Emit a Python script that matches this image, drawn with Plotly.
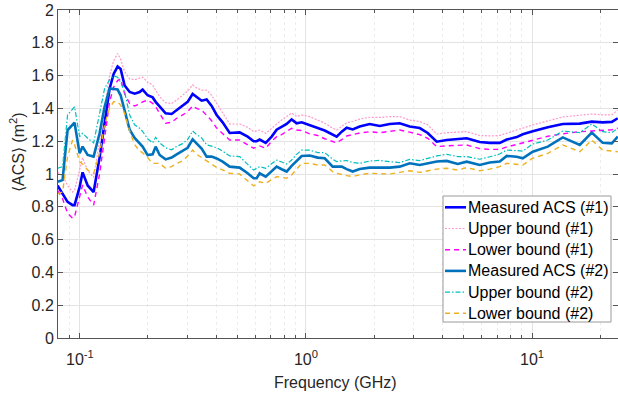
import plotly.graph_objects as go

# Frequency grid (GHz)
freq = [0.0796, 0.0838, 0.0882, 0.0928, 0.0947, 0.0997, 0.1028, 0.1082, 0.1150, 0.1222,
        0.1286, 0.1353, 0.1410, 0.1468, 0.1514, 0.1577, 0.1660, 0.1746, 0.1837, 0.1894,
        0.1993, 0.2098, 0.2163, 0.2253, 0.2394, 0.2545, 0.2679, 0.2847, 0.2996, 0.3152,
        0.3283, 0.3455, 0.3636, 0.3826, 0.4026, 0.4279, 0.4597, 0.5089, 0.5521, 0.5869,
        0.6052, 0.6239, 0.6635, 0.7050, 0.7418, 0.7806, 0.8214, 0.8642, 0.9095, 0.9572,
        1.038, 1.127, 1.210, 1.313, 1.367, 1.439, 1.514, 1.609, 1.728, 1.913,
        2.119, 2.346, 2.597, 2.876, 3.185, 3.455, 3.787, 4.194, 4.691, 5.141,
        5.869, 6.500, 7.195, 7.730, 8.557, 9.097, 10.07, 11.74, 13.67, 16.26,
        18.37, 20.55, 22.53, 23.94]

meas1 = [0.93, 0.88, 0.83, 0.81, 0.81, 0.92, 1.01, 0.93, 0.89, 1.10,
         1.30, 1.52, 1.61, 1.655, 1.64, 1.54, 1.50, 1.49, 1.50, 1.515,
         1.48, 1.467, 1.44, 1.41, 1.37, 1.366, 1.39, 1.42, 1.44, 1.488,
         1.47, 1.447, 1.455, 1.415, 1.36, 1.315, 1.25, 1.254, 1.228, 1.20,
         1.20, 1.21, 1.19, 1.228, 1.27, 1.285, 1.305, 1.333, 1.309, 1.315,
         1.30, 1.28, 1.265, 1.24, 1.228, 1.258, 1.282, 1.272, 1.29, 1.305,
         1.293, 1.305, 1.309, 1.289, 1.28, 1.25, 1.197, 1.207, 1.213, 1.218,
         1.195, 1.19, 1.19, 1.21, 1.225, 1.242, 1.26, 1.285, 1.305, 1.307,
         1.319, 1.315, 1.318, 1.34]

upper1 = [1.01, 0.99, 0.93, 0.89, 0.90, 1.02, 1.10, 1.02, 0.98, 1.20,
          1.40, 1.60, 1.69, 1.735, 1.70, 1.624, 1.58, 1.575, 1.585, 1.59,
          1.56, 1.543, 1.51, 1.471, 1.435, 1.43, 1.451, 1.48, 1.505, 1.543,
          1.525, 1.512, 1.512, 1.48, 1.43, 1.37, 1.305, 1.305, 1.285, 1.258,
          1.262, 1.268, 1.248, 1.28, 1.309, 1.33, 1.35, 1.372, 1.35, 1.36,
          1.35, 1.33, 1.31, 1.28, 1.268, 1.29, 1.313, 1.32, 1.335, 1.346,
          1.345, 1.35, 1.35, 1.329, 1.32, 1.30, 1.244, 1.252, 1.255, 1.258,
          1.235, 1.232, 1.235, 1.25, 1.268, 1.28, 1.299, 1.325, 1.348, 1.358,
          1.366, 1.36, 1.36, 1.39]

lower1 = [0.90, 0.85, 0.76, 0.73, 0.74, 0.87, 0.933, 0.86, 0.81, 1.00,
          1.22, 1.44, 1.53, 1.57, 1.58, 1.49, 1.43, 1.415, 1.427, 1.44,
          1.45, 1.431, 1.41, 1.37, 1.31, 1.315, 1.34, 1.36, 1.38, 1.415,
          1.40, 1.39, 1.36, 1.325, 1.28, 1.245, 1.207, 1.207, 1.18, 1.157,
          1.165, 1.171, 1.157, 1.20, 1.228, 1.24, 1.26, 1.279, 1.268, 1.265,
          1.245, 1.235, 1.215, 1.195, 1.19, 1.21, 1.232, 1.24, 1.25, 1.258,
          1.252, 1.26, 1.268, 1.255, 1.24, 1.218, 1.167, 1.172, 1.175, 1.177,
          1.155, 1.15, 1.15, 1.165, 1.18, 1.19, 1.205, 1.23, 1.245, 1.258,
          1.262, 1.268, 1.27, 1.279]

meas2 = [0.953, 0.963, 1.268, 1.30, 1.313, 1.126, 1.167, 1.116, 1.106, 1.248,
         1.41, 1.522, 1.52, 1.515, 1.48, 1.38, 1.27, 1.22, 1.19, 1.167,
         1.115, 1.12, 1.167, 1.116, 1.089, 1.10, 1.12, 1.14, 1.16, 1.211,
         1.187, 1.155, 1.106, 1.106, 1.095, 1.075, 1.045, 1.039, 1.005, 0.974,
         0.974, 1.004, 0.984, 1.015, 1.045, 1.029, 1.015, 1.05, 1.08, 1.11,
         1.113, 1.10, 1.096, 1.045, 1.045, 1.045, 1.03, 1.015, 1.03, 1.039,
         1.039, 1.039, 1.045, 1.065, 1.055, 1.065, 1.076, 1.08, 1.061, 1.075,
         1.055, 1.07, 1.076, 1.11, 1.105, 1.096, 1.136, 1.167, 1.223, 1.177,
         1.252, 1.19, 1.187, 1.228]

upper2 = [1.035, 1.045, 1.36, 1.40, 1.41, 1.228, 1.248, 1.218, 1.19, 1.37,
          1.522, 1.575, 1.598, 1.59, 1.56, 1.50, 1.36, 1.30, 1.279, 1.26,
          1.215, 1.19, 1.224, 1.19, 1.16, 1.148, 1.168, 1.185, 1.21, 1.262,
          1.24, 1.22, 1.177, 1.17, 1.16, 1.14, 1.11, 1.106, 1.06, 1.024,
          1.035, 1.045, 1.035, 1.06, 1.085, 1.073, 1.061, 1.085, 1.12, 1.146,
          1.146, 1.13, 1.13, 1.09, 1.076, 1.08, 1.082, 1.07, 1.065, 1.079,
          1.083, 1.075, 1.07, 1.089, 1.082, 1.095, 1.11, 1.12, 1.106, 1.106,
          1.09, 1.105, 1.122, 1.146, 1.14, 1.14, 1.183, 1.207, 1.262, 1.252,
          1.305, 1.258, 1.252, 1.279]

lower2 = [0.88, 0.89, 1.106, 1.207, 1.18, 1.075, 1.06, 1.024, 1.004, 1.126,
          1.30, 1.40, 1.441, 1.441, 1.42, 1.37, 1.26, 1.18, 1.14, 1.13,
          1.10, 1.065, 1.065, 1.065, 1.035, 1.045, 1.065, 1.08, 1.11, 1.146,
          1.12, 1.10, 1.08, 1.058, 1.04, 1.025, 1.004, 1.0, 0.96, 0.927,
          0.94, 0.953, 0.943, 0.965, 0.984, 0.98, 0.974, 0.994, 1.03, 1.065,
          1.065, 1.055, 1.055, 1.015, 1.004, 0.995, 0.99, 0.984, 0.995, 1.004,
          1.0, 1.0, 1.01, 1.02, 1.01, 1.02, 1.03, 1.035, 1.024, 1.039,
          1.02, 1.03, 1.045, 1.065, 1.06, 1.055, 1.096, 1.126, 1.177, 1.136,
          1.207, 1.146, 1.14, 1.136]

series_names = ["Measured ACS (#1)", "Upper bound (#1)", "Lower bound (#1)",
                "Measured ACS (#2)", "Upper bound (#2)", "Lower bound (#2)"]

x_ticks = [0.1, 1, 10]
x_tick_text = ["10<sup>-1</sup>", "10<sup>0</sup>", "10<sup>1</sup>"]

FONT = "Liberation Sans, Arial, Helvetica, sans-serif"
TXT = "#262626"
AX = "#555555"

styles = [
    dict(color="#0000FF", width=2.6, dash="solid"),
    dict(color="#FF99CC", width=1.2, dash="2px,1.5px"),
    dict(color="#FF00FF", width=1.4, dash="5px,4px"),
    dict(color="#0072BD", width=2.6, dash="solid"),
    dict(color="#00BFBF", width=1.2, dash="5px,2px,1.5px,2px"),
    dict(color="#EDB120", width=1.4, dash="5px,4px"),
]

# plot-area geometry in pixels (for placing the legend box)
L, R, T, B = 58, 618, 10, 338
W, H = 618, 399


def px_x(p):
    return (p - L) / (R - L)


def px_y(p):
    return (B - p) / (B - T)


fig = go.Figure()
for name, ys, st in zip(series_names, [meas1, upper1, lower1, meas2, upper2, lower2], styles):
    fig.add_trace(go.Scatter(x=freq, y=ys, mode="lines", name=name, line=st,
                             showlegend=False))

minor_vals = [d * 10 ** e for e in range(-2, 2) for d in range(2, 10)]

fig.update_layout(
    width=W, height=H,
    margin=dict(l=L, r=W - R, t=T, b=H - B),
    paper_bgcolor="white", plot_bgcolor="white",
    font=dict(family=FONT, size=16, color=TXT),
    showlegend=False,
)

fig.update_xaxes(
    type="log", range=[-1.0969, 1.3802],
    tickvals=x_ticks, ticktext=x_tick_text,
    ticks="inside", ticklen=5, tickcolor=AX, ticklabelstandoff=7,
    showline=True, linecolor=AX, linewidth=1, mirror="allticks",
    showgrid=True, gridcolor="#e3e3e3", gridwidth=1,
    minor=dict(tickvals=minor_vals, ticks="inside", ticklen=3, tickcolor=AX,
               showgrid=True, gridcolor="#ececec", griddash="dot"),
    tickfont=dict(family=FONT, size=16, color=TXT),
    zeroline=False,
)
fig.update_yaxes(
    range=[0, 2], dtick=0.2, tick0=0,
    ticks="inside", ticklen=5, tickcolor=AX,
    showline=True, linecolor=AX, linewidth=1, mirror="allticks",
    showgrid=True, gridcolor="#e3e3e3", gridwidth=1,
    tickfont=dict(family=FONT, size=16, color=TXT),
    zeroline=False,
)

fig.add_annotation(text="Frequency (GHz)", xref="paper", yref="paper",
                   x=px_x(335), y=px_y(382), xanchor="center", yanchor="middle",
                   showarrow=False, font=dict(family=FONT, size=16, color=TXT))
fig.add_annotation(text="\u27e8ACS\u27e9 (m<sup>2</sup>)", xref="paper", yref="paper",
                   x=px_x(17), y=px_y(152), xanchor="center", yanchor="middle", textangle=-90,
                   showarrow=False, font=dict(family=FONT, size=16, color=TXT))

# Legend box (drawn to match the compact reference legend)
fig.add_shape(type="rect", xref="paper", yref="paper",
              x0=px_x(443), x1=px_x(611), y0=px_y(322), y1=px_y(196),
              line=dict(color="#9a9a9a", width=1), fillcolor="white", layer="above")
row0, row_step = 207.3, 21.2
for i, (name, st) in enumerate(zip(series_names, styles)):
    yc = row0 + i * row_step
    fig.add_shape(type="line", xref="paper", yref="paper",
                  x0=px_x(445), x1=px_x(466), y0=px_y(yc), y1=px_y(yc),
                  line=dict(color=st["color"], width=st["width"], dash=st["dash"]),
                  layer="above")
    fig.add_annotation(text=name, xref="paper", yref="paper",
                       x=px_x(466), y=px_y(yc), xanchor="left", yanchor="middle",
                       showarrow=False, font=dict(family=FONT, size=16, color="#000000"))

fig.write_html("out.html")
